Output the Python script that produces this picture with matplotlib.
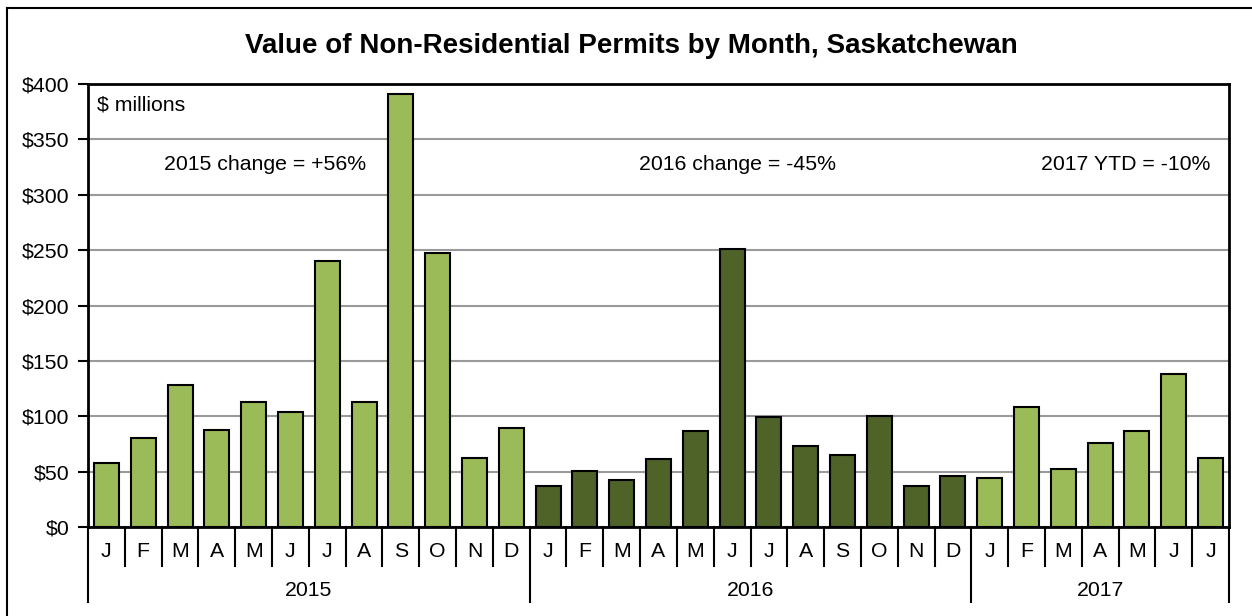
import matplotlib
matplotlib.use("Agg")
import matplotlib.pyplot as plt
from matplotlib.lines import Line2D

plt.rcParams['font.family'] = ['Liberation Sans', 'DejaVu Sans']

months = ["J", "F", "M", "A", "M", "J", "J", "A", "S", "O", "N", "D",
          "J", "F", "M", "A", "M", "J", "J", "A", "S", "O", "N", "D",
          "J", "F", "M", "A", "M", "J", "J"]
years = ["2015", "2016", "2017"]
months_per_year = [12, 12, 7]
values = [58, 80, 128, 88, 113, 104, 240, 113, 391, 247, 62, 89,
          37, 51, 42, 61, 87, 251, 99, 73, 65, 100, 37, 46,
          44, 108, 52, 76, 87, 138, 62]
year_colors = ["#9BBB59", "#4F6228", "#9BBB59"]
notes = ["2015 change = +56%", "2016 change = -45%", "2017 YTD = -10%"]

colors = []
for c, n in zip(year_colors, months_per_year):
    colors += [c] * n

FS = 15.3

fig = plt.figure(figsize=(12.52, 6.16), dpi=100)
ax = fig.add_axes([88 / 1252, 1 - 527 / 616, (1229 - 88) / 1252, (527 - 84) / 616])

x = list(range(len(values)))
ax.bar(x, values, width=0.68, color=colors, edgecolor="black", linewidth=1.5, zorder=3)

ax.set_xlim(-0.5, len(values) - 0.5)
ax.set_ylim(0, 400)
ax.set_yticks(range(0, 401, 50))
ax.set_yticklabels([f"${v}" for v in range(0, 401, 50)], fontsize=FS)
ax.yaxis.grid(True, color="#9A9A9A", linewidth=1.5, zorder=0)
ax.tick_params(axis="y", length=7.5, width=1.5, direction="out", pad=6)
ax.set_xticks([])
for s in ax.spines.values():
    s.set_linewidth(2)
    s.set_color("black")

# category axis: month labels, year labels and separators
tr = ax.get_xaxis_transform()
for i, m in enumerate(months):
    ax.text(i, -0.055, m, transform=tr, ha="center", va="center", fontsize=FS)
start = 0
for yr, n in zip(years, months_per_year):
    ax.text(start + (n - 1) / 2, -0.143, yr, transform=tr, ha="center", va="center", fontsize=FS)
    start += n
bounds = [0]
for n in months_per_year:
    bounds.append(bounds[-1] + n)
for b in range(len(values) + 1):
    bottom = -0.17 if b in bounds else -0.087
    ax.add_line(Line2D([b - 0.5, b - 0.5], [0, bottom], transform=tr, color="black",
                       linewidth=1.5, clip_on=False))

ax.text(0.008, 0.952, "$ millions", transform=ax.transAxes, ha="left", va="center", fontsize=FS)
ax.text(4.3, 327, notes[0], ha="center", va="center", fontsize=FS)
ax.text(17.15, 327, notes[1], ha="center", va="center", fontsize=FS)
ax.text(30.0, 327, notes[2], ha="right", va="center", fontsize=FS)

fig.text(631 / 1252, 1 - 46 / 616, "Value of Non-Residential Permits by Month, Saskatchewan",
         ha="center", va="center", fontsize=20, fontweight="bold")

# outer chart frame
fig.add_artist(Line2D([7 / 1252, 7 / 1252], [0, 1 - 8 / 616], transform=fig.transFigure,
                      color="black", linewidth=1.5))
fig.add_artist(Line2D([7 / 1252, 1], [1 - 8 / 616, 1 - 8 / 616], transform=fig.transFigure,
                      color="black", linewidth=1.5))

fig.savefig("out.png", dpi=100)
